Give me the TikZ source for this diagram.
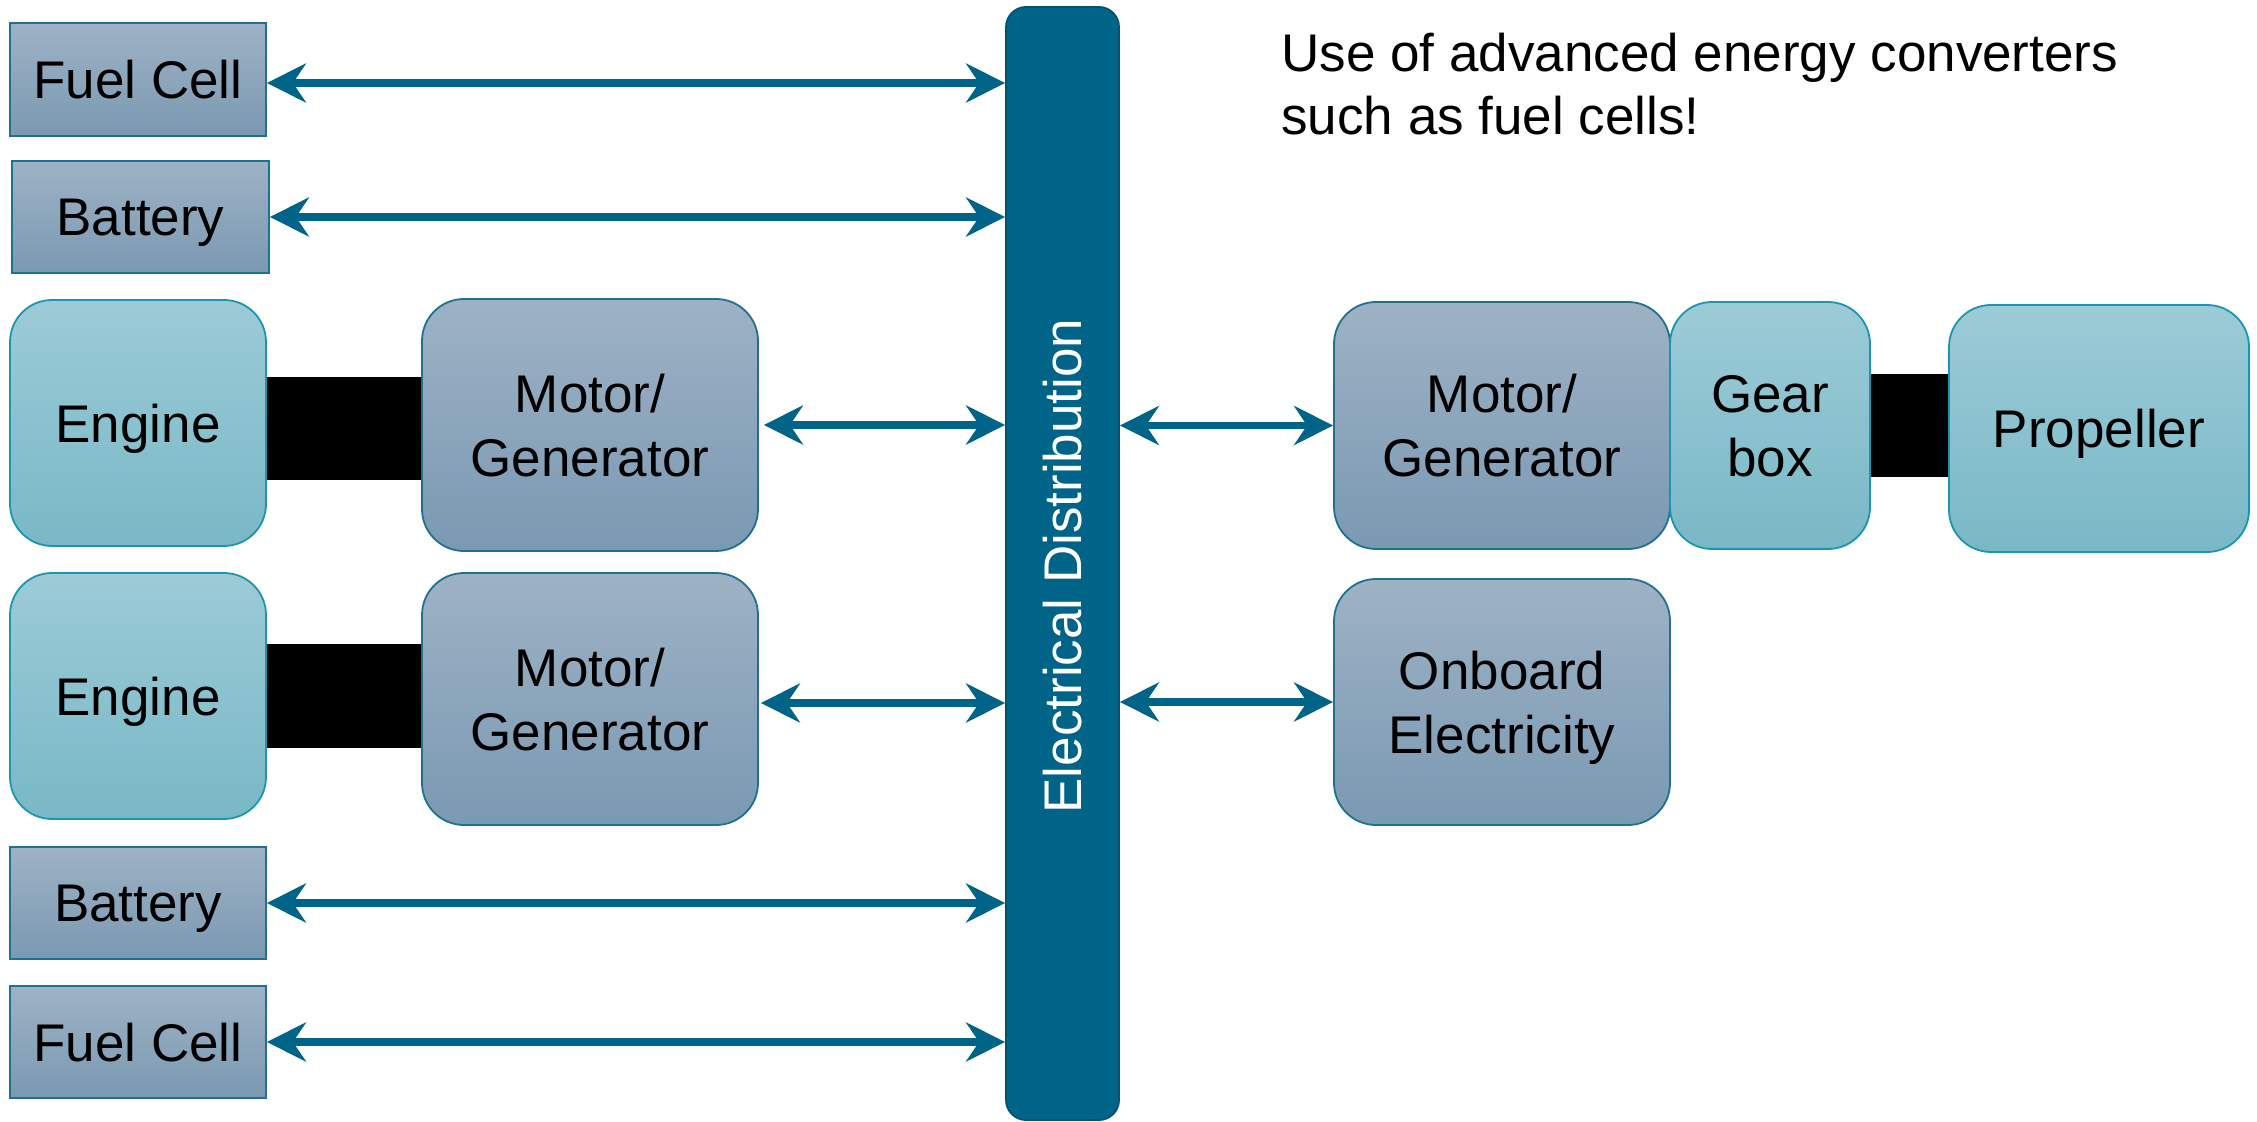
\documentclass[tikz,border=0pt]{standalone}
\usepackage{fontspec}
\setmainfont{Liberation Sans}
\usetikzlibrary{arrows.meta,calc}

\definecolor{busfill}{RGB}{0,100,137}
\definecolor{busline}{RGB}{0,84,115}
\definecolor{slatetop}{RGB}{158,178,197}
\definecolor{slatebot}{RGB}{122,153,178}
\definecolor{slateline}{RGB}{32,112,145}
\definecolor{tealtop}{RGB}{156,203,215}
\definecolor{tealbot}{RGB}{121,184,198}
\definecolor{tealline}{RGB}{28,150,176}

\tikzset{
  txt/.style={font=\fontsize{26.5}{32}\selectfont, align=center, inner sep=0pt, text depth=0pt},
  slatebox/.style={txt, draw=slateline, line width=0.9pt, top color=slatetop, bottom color=slatebot},
  tealbox/.style={txt, draw=tealline, line width=0.9pt, top color=tealtop, bottom color=tealbot},
  roundbox/.style={rounded corners=21pt},
  shaft/.style={fill=black, draw=none, inner sep=0pt},
  busbar/.style={fill=busfill, draw=busline, line width=0.9pt, rounded corners=10pt, inner sep=0pt},
  biarrow/.style={draw=busfill, line width=3.75pt,
    {Stealth[length=19.5pt,width=19.5pt,inset=6.5pt]}-{Stealth[length=19.5pt,width=19.5pt,inset=6.5pt]}}
}

\begin{document}
\begin{tikzpicture}[x=0.5pt,y=-0.5pt]
\useasboundingbox (0,0) rectangle (2257,1122);

% mechanical shafts (behind the boxes)
\node[shaft, minimum width=78pt, minimum height=51.5pt] (sh1) at (344,428.5) {};
\node[shaft, minimum width=78pt, minimum height=52pt] (sh2) at (344,696) {};
\node[shaft, minimum width=40pt, minimum height=51.5pt] (sh3) at (1909.5,425.5) {};

% electrical distribution bus
\node[busbar, minimum width=56.5pt, minimum height=556.5pt] (bus) at (1062.5,563.5) {};
\node[txt, text=white, rotate=90] (bustext) at (1062.5,566) {Electrical Distribution};

% left side sources
\node[slatebox, minimum width=128pt, minimum height=56.5pt] (fc1) at (138,79.5) {Fuel Cell};
\node[slatebox, minimum width=128.5pt, minimum height=56pt] (bat1) at (140.5,217) {Battery};
\node[tealbox, roundbox, minimum width=128pt, minimum height=123pt] (eng1) at (138,423) {Engine};
\node[slatebox, roundbox, minimum width=168pt, minimum height=126pt] (mg1) at (590,425) {Motor/\\Generator};
\node[tealbox, roundbox, minimum width=128pt, minimum height=123pt] (eng2) at (138,696) {Engine};
\node[slatebox, roundbox, minimum width=168pt, minimum height=126pt] (mg2) at (590,699) {Motor/\\Generator};
\node[slatebox, minimum width=128pt, minimum height=56pt] (bat2) at (138,903) {Battery};
\node[slatebox, minimum width=128pt, minimum height=56pt] (fc2) at (138,1042) {Fuel Cell};

% right side consumers
\node[slatebox, roundbox, minimum width=168pt, minimum height=123.5pt] (mg3) at (1502,425.5) {Motor/\\Generator};
\node[tealbox, roundbox, minimum width=100pt, minimum height=123.5pt] (gear) at (1770,425.5) {Gear\\box};
\node[tealbox, roundbox, minimum width=150pt, minimum height=123.5pt] (prop) at (2099,428.5) {Propeller};
\node[slatebox, roundbox, minimum width=168pt, minimum height=123pt] (onb) at (1502,702) {Onboard\\Electricity};

% note
\node[txt, align=left, anchor=north west, font=\fontsize{26.5}{31.5}\selectfont] (note) at (1281,33)
  {Use of advanced energy converters\\such as fuel cells!};

% electrical connections
\draw[biarrow] ([yshift=-1.75pt]fc1.east) -- ([yshift=-1.75pt]fc1.east -| bus.west);
\draw[biarrow] (bat1.east) -- (bat1.east -| bus.west);
\draw[biarrow] ([xshift=2.5pt]mg1.east) -- (mg1.east -| bus.west);
\draw[biarrow] ([xshift=1pt,yshift=-2pt]mg2.east) -- ([yshift=-2pt]mg2.east -| bus.west);
\draw[biarrow] (bat2.east) -- (bat2.east -| bus.west);
\draw[biarrow] (fc2.east) -- (fc2.east -| bus.west);
\draw[biarrow] (bus.east |- mg3.west) -- (mg3.west);
\draw[biarrow] (bus.east |- onb.west) -- (onb.west);
\end{tikzpicture}
\end{document}
